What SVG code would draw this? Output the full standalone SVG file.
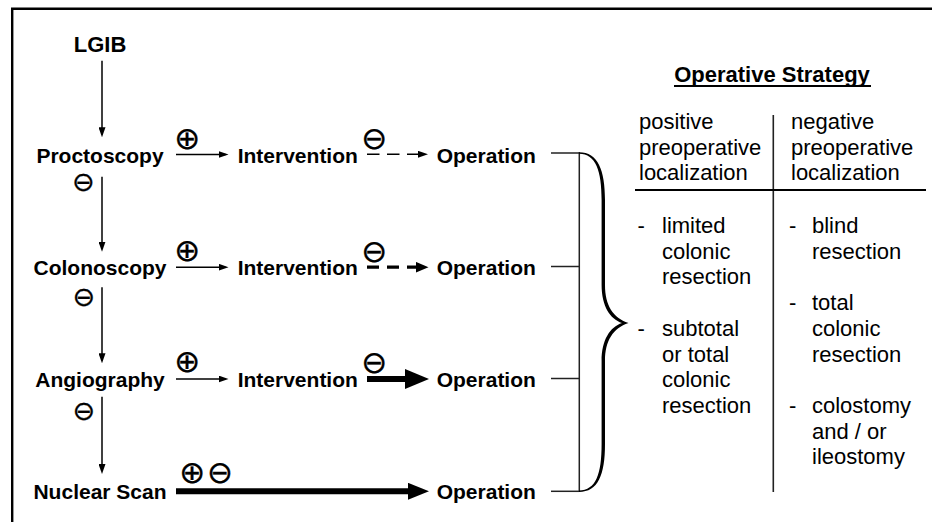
<svg xmlns="http://www.w3.org/2000/svg" width="932" height="522" viewBox="0 0 932 522">
  <style>
    .lbl { font-family: "Liberation Sans", Arial, sans-serif; font-weight: bold; font-size: 21px; fill: #000; }
    .tbl { font-family: "Liberation Sans", Arial, sans-serif; font-size: 22px; fill: #000; }
    .sign { font-family: "DejaVu Sans", sans-serif; font-size: 31px; fill: #000; stroke: #000; stroke-width: 0.3; text-anchor: middle; dominant-baseline: central; }
    .sign-s { font-family: "DejaVu Sans", sans-serif; font-size: 27px; fill: #000; stroke: #000; stroke-width: 0.3; text-anchor: middle; dominant-baseline: central; }
    .thin { stroke: #000; stroke-width: 1.5; fill: none; }
    .rule { stroke: #222; stroke-width: 1.5; fill: none; }
  </style>
  <defs>
    <marker id="m-thin" markerUnits="userSpaceOnUse" markerWidth="10" markerHeight="7" refX="7" refY="3.5" orient="auto">
      <path d="M0,0 L10,3.5 L0,7 Z" fill="#000"/>
    </marker>
    <marker id="m-mid" markerUnits="userSpaceOnUse" markerWidth="13" markerHeight="11" refX="4" refY="5.5" orient="auto">
      <path d="M0,0 L13,5.5 L0,11 Z" fill="#000"/>
    </marker>
    <marker id="m-big" markerUnits="userSpaceOnUse" markerWidth="24" markerHeight="20" refX="4" refY="10" orient="auto">
      <path d="M0,0 L24,10 L0,20 Z" fill="#000"/>
    </marker>
    <marker id="m-big4" markerUnits="userSpaceOnUse" markerWidth="21" markerHeight="17" refX="4" refY="8.5" orient="auto">
      <path d="M0,0 L21,8.5 L0,17 Z" fill="#000"/>
    </marker>
  </defs>

  <rect width="932" height="522" fill="#fff"/>
  <!-- frame -->
  <path d="M12.2,522 L12.2,8.7 L932,8.7" fill="none" stroke="#000" stroke-width="2.4"/>

  <!-- nodes -->
  <g id="n-lgib"><text class="lbl" x="100" y="52" text-anchor="middle" style="font-size:22px">LGIB</text></g>
  <g id="n-proctoscopy"><text class="lbl" x="100" y="162.5" text-anchor="middle">Proctoscopy</text></g>
  <g id="n-colonoscopy"><text class="lbl" x="100" y="274.5" text-anchor="middle">Colonoscopy</text></g>
  <g id="n-angiography"><text class="lbl" x="100" y="386.5" text-anchor="middle">Angiography</text></g>
  <g id="n-nuclear"><text class="lbl" x="100" y="498.5" text-anchor="middle">Nuclear Scan</text></g>

  <g id="n-intervention1"><text class="lbl" x="237.7" y="162.5">Intervention</text></g>
  <g id="n-intervention2"><text class="lbl" x="237.7" y="274.5">Intervention</text></g>
  <g id="n-intervention3"><text class="lbl" x="237.7" y="386.5">Intervention</text></g>

  <g id="n-operation1"><text class="lbl" x="436.7" y="162.5">Operation</text></g>
  <g id="n-operation2"><text class="lbl" x="436.7" y="274.5">Operation</text></g>
  <g id="n-operation3"><text class="lbl" x="436.7" y="386.5">Operation</text></g>
  <g id="n-operation4"><text class="lbl" x="436.7" y="498.5">Operation</text></g>

  <!-- connectors -->
  <g id="connectors">
    <!-- vertical cascade -->
    <line class="thin" x1="102" y1="60.7" x2="102" y2="134.3" marker-end="url(#m-thin)"/>
    <line class="thin" x1="102" y1="176.7" x2="102" y2="248.7" marker-end="url(#m-thin)"/>
    <line class="thin" x1="102" y1="287.3" x2="102" y2="360.3" marker-end="url(#m-thin)"/>
    <line class="thin" x1="102" y1="396.7" x2="102" y2="471" marker-end="url(#m-thin)"/>
    <!-- positive branches -->
    <line class="thin" x1="176" y1="154.5" x2="225.5" y2="154.5" marker-end="url(#m-thin)"/>
    <line class="thin" x1="176" y1="267.2" x2="225.5" y2="267.2" marker-end="url(#m-thin)"/>
    <line class="thin" x1="176" y1="379" x2="225.5" y2="379" marker-end="url(#m-thin)"/>
    <!-- negative branches -->
    <line x1="367" y1="154.3" x2="425" y2="154.3" stroke="#000" stroke-width="1.6" stroke-dasharray="12.5 7.5" marker-end="url(#m-thin)"/>
    <line x1="367" y1="267.2" x2="419.5" y2="267.2" stroke="#000" stroke-width="3.2" stroke-dasharray="12 8" marker-end="url(#m-mid)"/>
    <line x1="367" y1="379" x2="409" y2="379" stroke="#000" stroke-width="6" marker-end="url(#m-big)"/>
    <line x1="176" y1="491.3" x2="412" y2="491.3" stroke="#000" stroke-width="6" marker-end="url(#m-big4)"/>
    <!-- bracket -->
    <line class="rule" x1="551" y1="153" x2="579.3" y2="153"/>
    <line class="rule" x1="551" y1="266.5" x2="579.3" y2="266.5"/>
    <line class="rule" x1="551" y1="378.5" x2="579.3" y2="378.5"/>
    <line class="rule" x1="551" y1="491.3" x2="579.3" y2="491.3"/>
    <line class="rule" x1="579.3" y1="152.3" x2="579.3" y2="492"/>
    <path d="M579,152.2 C598,152.2 605,170 605,200 L605,285 C605,305 613,318 628.5,323 C613,328 605,341 605,361 L605,444 C605,475 598,491.9 579,491.9 L579,490.4 C596,490.4 601.6,474 601.6,444 L601.6,361 C601.6,340 610,327 622,323 C610,319 601.6,306 601.6,285 L601.6,200 C601.6,171 596,153.7 579,153.7 Z" fill="#000"/>
    <!-- signs -->
    <text class="sign-s" x="83.5" y="181.7">⊖</text>
    <text class="sign-s" x="84" y="296.7">⊖</text>
    <text class="sign-s" x="84" y="410.7">⊖</text>
    <text class="sign" x="187.3" y="138.3">⊕</text>
    <text class="sign" x="187.3" y="249.5">⊕</text>
    <text class="sign" x="187.3" y="360.5">⊕</text>
    <text class="sign" x="374.3" y="137.7">⊖</text>
    <text class="sign" x="374.3" y="250.7">⊖</text>
    <text class="sign" x="374.3" y="361.7">⊖</text>
    <text class="sign" x="192.3" y="471.7">⊕</text>
    <text class="sign" x="220" y="471.7">⊖</text>
  </g>

  <!-- operative strategy table -->
  <g id="strategy">
    <text class="tbl" x="772" y="81.5" text-anchor="middle" font-weight="bold">Operative Strategy</text>
    <line x1="674" y1="86" x2="871" y2="86" stroke="#000" stroke-width="1.8"/>
    <line x1="773.3" y1="115" x2="773.3" y2="492" stroke="#222" stroke-width="1.6"/>
    <line x1="635" y1="190" x2="926" y2="190" stroke="#000" stroke-width="2"/>

    <g id="col-positive">
      <text class="tbl" x="639" y="129">positive</text>
      <text class="tbl" x="639" y="154.5">preoperative</text>
      <text class="tbl" x="639" y="180">localization</text>
      <text class="tbl" x="637.5" y="233">-</text>
      <text class="tbl" x="662" y="233">limited</text>
      <text class="tbl" x="662" y="258.7">colonic</text>
      <text class="tbl" x="662" y="284.4">resection</text>
      <text class="tbl" x="637.5" y="335.8">-</text>
      <text class="tbl" x="662" y="335.8">subtotal</text>
      <text class="tbl" x="662" y="361.5">or total</text>
      <text class="tbl" x="662" y="387.2">colonic</text>
      <text class="tbl" x="662" y="412.9">resection</text>
    </g>
    <g id="col-negative">
      <text class="tbl" x="791" y="129">negative</text>
      <text class="tbl" x="791" y="154.5">preoperative</text>
      <text class="tbl" x="791" y="180">localization</text>
      <text class="tbl" x="789" y="233">-</text>
      <text class="tbl" x="812" y="233">blind</text>
      <text class="tbl" x="812" y="258.7">resection</text>
      <text class="tbl" x="789" y="310.1">-</text>
      <text class="tbl" x="812" y="310.1">total</text>
      <text class="tbl" x="812" y="335.8">colonic</text>
      <text class="tbl" x="812" y="361.5">resection</text>
      <text class="tbl" x="789" y="412.9">-</text>
      <text class="tbl" x="812" y="412.9">colostomy</text>
      <text class="tbl" x="812" y="438.6">and / or</text>
      <text class="tbl" x="812" y="464.3">ileostomy</text>
    </g>
  </g>
</svg>
